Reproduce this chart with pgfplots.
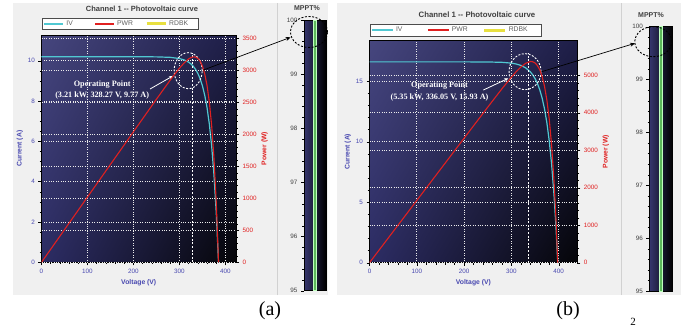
\documentclass[border=0pt]{standalone}
\usepackage{pgfplots}
\pgfplotsset{compat=1.18}
\usepackage{fontspec}
\setmainfont{Liberation Sans}
\newfontfamily\timesfont{Liberation Serif}
\usetikzlibrary{shadings,arrows.meta}
\definecolor{ivcyan}{HTML}{50C8D2}
\definecolor{pwrred}{HTML}{E02020}
\definecolor{rdbkyel}{HTML}{E8E040}
\definecolor{tickblue}{HTML}{4848B0}
\definecolor{panelgray}{HTML}{F0F0F0}
\definecolor{bgUL}{HTML}{46467E}
\definecolor{bgUR}{HTML}{1E1E48}
\definecolor{bgLL}{HTML}{2C2C64}
\definecolor{bgLR}{HTML}{050508}
\definecolor{mpL}{HTML}{36366E}
\definecolor{mpgreen}{HTML}{5CB85C}
\definecolor{txtgray}{HTML}{404040}
\definecolor{legtxt}{HTML}{606060}

\pgfplotsset{
  pvbase/.style={scale only axis, anchor=south west,
    /pgf/number format/assume math mode=true,
    /pgf/number format/1000 sep={},
    tick align=outside, major tick length=3pt, minor tick length=1.8pt,
    tick style={black, line width=0.4pt},
    tick label style={font=\fontsize{6.3}{7}\selectfont},
    grid style={white!85!gray, dotted, line width=0.7pt},
    axis line style={black, line width=0.6pt},
    label style={font=\bfseries\fontsize{6.8}{8}\selectfont},
  },
  pvleft/.style={pvbase,
    axis background/.style={shade, upper left=bgUL, upper right=bgUR, lower left=bgLL, lower right=bgLR},
    xtick={0,100,...,400}, minor x tick num=4, minor y tick num=3,
    xtick pos=bottom, ytick pos=left,
    xmajorgrids, ymajorgrids,
    tick label style={text=tickblue},
    label style={text=tickblue},
    xlabel={Voltage (V)}, ylabel={Current (A)},
    xlabel style={yshift=1pt}, ylabel style={yshift=-2pt},
  },
  pvright/.style={pvbase,
    axis y line*=right, axis x line=none,
    minor y tick num=4, ymajorgrids,
    tick label style={text=pwrred},
    label style={text=pwrred},
    ylabel={Power (W)}, ylabel style={yshift=2pt},
    legend columns=3,
    legend image code/.code={\draw[#1] (0pt,0pt) -- (19pt,0pt);},
    legend style={draw=black!70, fill=white,
      font=\fontsize{6.8}{7.5}\selectfont, text=legtxt,
      inner xsep=1.5pt, inner ysep=0.6pt, row sep=0pt,
      /tikz/every even column/.append style={column sep=0pt, text width=26pt, align=left}},
  },
  mppt/.style={pvbase,
    axis background/.style={shade, left color=mpL, right color=black},
    xmin=0, xmax=1, ymin=95, ymax=100, xtick=\empty,
    ytick={95,96,...,100}, minor y tick num=4, ytick pos=left,
    tick label style={text=txtgray},
  },
}

\begin{document}
\begin{tikzpicture}[x=1pt,y=1pt]
\path[fill=white] (0,0) rectangle (681,327);
\fill[panelgray] (13,32) rectangle (328,324);
\fill[panelgray] (337,32) rectangle (681,324);
\draw[black!18, line width=0.8pt] (277.5,32) -- (277.5,324);
\draw[black!18, line width=0.8pt] (621.5,32) -- (621.5,324);

% ---------------- Panel (a) ----------------
\begin{axis}[pvleft, at={(41.5pt,64.7pt)}, width=194.5pt, height=227.3pt,
  xmin=0, xmax=423, ymin=0, ymax=11.28, ytick={0,2,...,10}]
\addplot[draw=ivcyan, line width=1.2pt] coordinates {
(0,10.2) (100,10.2) (200,10.2) (250,10.195) (280,10.171) (300,10.112) (310,10.046)
(320,9.930) (325,9.843) (330,9.728) (335,9.576) (340,9.374) (345,9.109) (350,8.756)
(355,8.29) (360,7.677) (365,6.862) (370,5.787) (375,4.366) (380,2.486) (385,0)};
\draw[white, line width=1.3pt, dash pattern=on 2pt off 1.6pt] (axis cs:328.27,0) -- (axis cs:328.27,10.4);
\draw[white, line width=0.9pt, dash pattern=on 2pt off 1.5pt] (axis cs:319,9.51) ellipse [x radius=14pt, y radius=18pt];
\node[white, font=\timesfont\bfseries\fontsize{8.2}{11.7}\selectfont, align=center] at (axis cs:132,8.55)
  {Operating Point\\(3.21 kW, 328.27 V, 9.77 A)};
\draw[white, line width=0.8pt, -{Stealth[length=4pt,width=3.5pt]}] (axis cs:236,8.6) -- (axis cs:286,9.25);
\coordinate (arrA) at (axis cs:351.7,9.54);
\end{axis}
\begin{axis}[pvright, at={(41.5pt,64.7pt)}, width=194.5pt, height=227.3pt,
  xmin=0, xmax=423, ymin=0, ymax=3552, ytick={0,500,...,3500},
  legend style={at={(axis description cs:0.002,1)}, anchor=south west, yshift=5.5pt}]
\addlegendimage{draw=ivcyan, line width=1.8pt}
\addlegendentry{IV}
\addplot[draw=pwrred, line width=1.1pt, forget plot] coordinates {
(0,0) (100,1020) (200,2040) (250,2549) (280,2848) (300,3034) (310,3114) (320,3178)
(325,3199) (330,3210) (335,3208) (340,3187) (345,3143) (350,3065) (355,2943)
(360,2764) (365,2505) (370,2141) (375,1637) (380,945) (385,0)};
\addlegendimage{draw=pwrred, line width=1.8pt}
\addlegendentry{PWR}
\addlegendimage{draw=rdbkyel, line width=3pt}
\addlegendentry{RDBK}
\end{axis}
\node[font=\bfseries\fontsize{7.5}{9}\selectfont, text=txtgray] at (142pt,318pt) {Channel 1 -{}- Photovoltaic curve};
\begin{axis}[mppt, at={(304pt,36.3pt)}, width=22pt, height=270.7pt]
\addplot[ybar, bar width=3.2pt, fill=mpgreen, draw=white!75!green, line width=0.6pt] coordinates {(0.5,100)};
\end{axis}
\node[font=\bfseries\fontsize{7}{8}\selectfont, text=txtgray] at (307pt,318.5pt) {MPPT\%};
\draw[black, line width=0.9pt, dash pattern=on 2pt off 1.6pt] (309pt,295pt) ellipse [x radius=18.5pt, y radius=15.5pt];
\draw[black, line width=0.7pt, -{Stealth[length=5pt,width=4pt]}] (arrA) -- (290.7pt,289.7pt);
\node[font=\timesfont\fontsize{20}{22}\selectfont] at (270pt,16.3pt) {(a)};

% ---------------- Panel (b) ----------------
\begin{axis}[pvleft, at={(369.5pt,64.3pt)}, width=207.8pt, height=222pt,
  xmin=0, xmax=439.3, ymin=0, ymax=18.35, ytick={0,5,10,15}, minor y tick num=4]
\addplot[draw=ivcyan, line width=1.2pt] coordinates {
(0,16.6) (100,16.6) (200,16.6) (250,16.592) (280,16.563) (300,16.497) (310,16.426)
(320,16.308) (330,16.110) (340,15.778) (345,15.534) (350,15.220) (355,14.812)
(360,14.283) (365,13.597) (370,12.709) (375,11.559) (380,10.070) (385,8.136)
(390,5.632) (394,3.108) (398,0)};
\draw[white, line width=1.3pt, dash pattern=on 2pt off 1.6pt] (axis cs:336.05,0) -- (axis cs:336.05,17.33);
\draw[white, line width=0.9pt, dash pattern=on 2pt off 1.5pt] (axis cs:328.8,15.79) ellipse [x radius=16pt, y radius=18pt];
\node[white, font=\timesfont\bfseries\fontsize{8.2}{11.7}\selectfont, align=center] at (axis cs:148,14.15)
  {Operating Point\\(5.35 kW, 336.05 V, 15.93 A)};
\draw[white, line width=0.8pt, -{Stealth[length=4pt,width=3.5pt]}] (axis cs:240.6,14.27) -- (axis cs:293.4,15.24);
\coordinate (arrB) at (axis cs:364,15.79);
\end{axis}
\begin{axis}[pvright, at={(369.5pt,64.3pt)}, width=207.8pt, height=222pt,
  xmin=0, xmax=439.3, ymin=0, ymax=5920, ytick={0,1000,...,5000},
  legend style={at={(axis description cs:0,1)}, anchor=south west, yshift=4.7pt,
    /tikz/every even column/.append style={text width=29pt}},
  legend image code/.code={\draw[#1] (0pt,0pt) -- (21pt,0pt);}]
\addlegendimage{draw=ivcyan, line width=1.8pt}
\addlegendentry{IV}
\addplot[draw=pwrred, line width=1.1pt, forget plot] coordinates {
(0,0) (100,1660) (200,3320) (250,4148) (280,4638) (300,4949) (310,5092) (320,5219)
(330,5316) (340,5365) (345,5359) (350,5327) (355,5258) (360,5142) (365,4963)
(370,4702) (375,4335) (380,3827) (385,3132) (390,2196) (394,1225) (398,0)};
\addlegendimage{draw=pwrred, line width=1.8pt}
\addlegendentry{PWR}
\addlegendimage{draw=rdbkyel, line width=3pt}
\addlegendentry{RDBK}
\end{axis}
\node[font=\bfseries\fontsize{7.8}{9}\selectfont, text=txtgray] at (477pt,312pt) {Channel 1 -{}- Photovoltaic curve};
\begin{axis}[mppt, at={(649.3pt,36pt)}, width=23pt, height=264.3pt]
\addplot[ybar, bar width=3.2pt, fill=mpgreen, draw=white!75!green, line width=0.6pt] coordinates {(0.5,100)};
\end{axis}
\node[font=\bfseries\fontsize{7}{8}\selectfont, text=txtgray] at (651pt,312pt) {MPPT\%};
\draw[black, line width=0.9pt, dash pattern=on 2pt off 1.6pt] (653.3pt,285.3pt) ellipse [x radius=18.5pt, y radius=15pt];
\draw[black, line width=0.7pt, -{Stealth[length=5pt,width=4pt]}] (arrB) -- (635pt,283.7pt);
\node[font=\timesfont\fontsize{20}{22}\selectfont] at (568pt,16.3pt) {(b)};
\node[font=\timesfont\fontsize{11}{12}\selectfont] at (633pt,5pt) {2};
\end{tikzpicture}
\end{document}
